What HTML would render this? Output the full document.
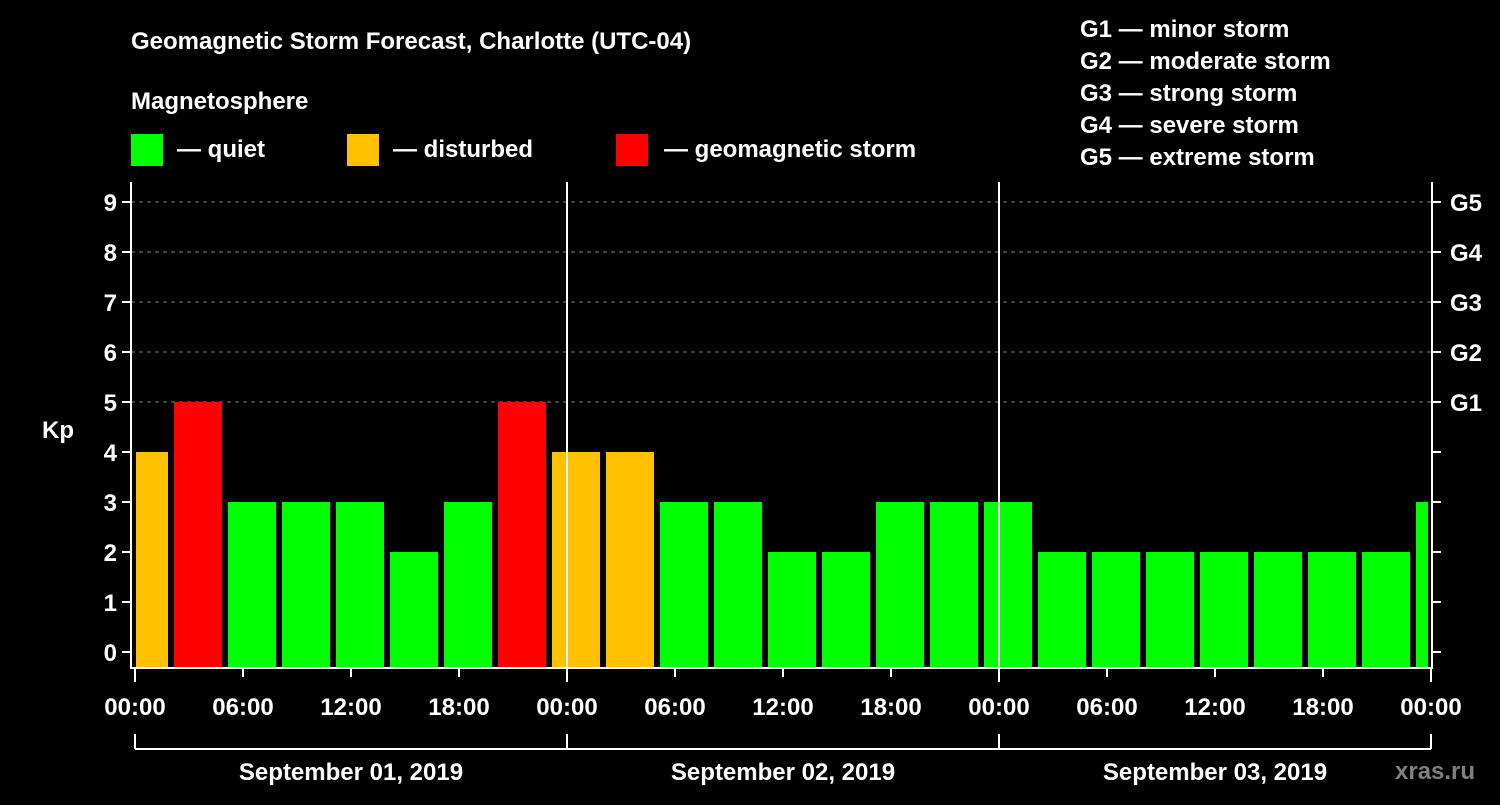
<!DOCTYPE html>
<html><head><meta charset="utf-8"><style>
body{margin:0;background:#000;width:1500px;height:800px;overflow:hidden}
svg text{font-family:"Liberation Sans",sans-serif;font-weight:bold;fill:#fff}
</style></head><body>
<svg width="1500" height="800">
<text x="131" y="49" font-size="24">Geomagnetic Storm Forecast, Charlotte (UTC-04)</text>
<text x="131" y="109" font-size="24">Magnetosphere</text>
<rect x="131" y="134" width="32" height="32" fill="#00ff00"/>
<text x="177" y="157" font-size="24">— quiet</text>
<rect x="347" y="134" width="32" height="32" fill="#ffc000"/>
<text x="393" y="157" font-size="24">— disturbed</text>
<rect x="616" y="134" width="32" height="32" fill="#ff0000"/>
<text x="664" y="157" font-size="24">— geomagnetic storm</text>
<g font-size="24">
<text x="1080" y="37">G1 — minor storm</text>
<text x="1080" y="69">G2 — moderate storm</text>
<text x="1080" y="101">G3 — strong storm</text>
<text x="1080" y="133">G4 — severe storm</text>
<text x="1080" y="165">G5 — extreme storm</text>
</g>
<g id="plot"></g>
<text x="42" y="438" font-size="24">Kp</text>
<text x="1395" y="779" font-size="24" style="fill:#808080">xras.ru</text>
</svg>
<script>
const kpValues=[4,5,3,3,3,2,3,5,4,4,3,3,2,2,3,3,3,2,2,2,2,2,2,2,3];
const yTicks=[0,1,2,3,4,5,6,7,8,9];
const gLabels=["G1","G2","G3","G4","G5"];
const gLevels=[5,6,7,8,9];
const xTickLabels=["00:00","06:00","12:00","18:00","00:00","06:00","12:00","18:00","00:00","06:00","12:00","18:00","00:00"];
const dayLabels=["September 01, 2019","September 02, 2019","September 03, 2019"];
const NS="http://www.w3.org/2000/svg";
const g=document.getElementById('plot');
const X0=135,PXH=18,L=131,R=1432,T=182,B=668;
const xs=h=>X0+h*PXH, ys=v=>652-v*50;
function mk(t,a,txt){const e=document.createElementNS(NS,t);for(const k in a)e.setAttribute(k,a[k]);if(txt!==undefined)e.textContent=txt;g.appendChild(e);return e;}
gLevels.forEach((lv,i)=>{
 const l=mk('line',{x1:L,x2:R,y1:ys(lv),y2:ys(lv),stroke:'#808080','stroke-dasharray':'4,4'});
 
 
 const t=mk('text',{x:1450,y:ys(lv)+9,'font-size':24},gLabels[i]);
 
 
});
kpValues.forEach((v,k)=>{
 const c=xs(0.5+3*k);let x1=Math.max(c-24,L+5),x2=Math.min(c+24,R-4);
 const col=v>=5?'#ff0000':v>=4?'#ffc000':'#00ff00';
 const r=mk('rect',{x:x1,y:ys(v),width:x2-x1,height:B-ys(v),fill:col});
 
 
});
yTicks.forEach(v=>{
 mk('line',{x1:L-9,x2:L,y1:ys(v),y2:ys(v),stroke:'#fff','stroke-width':2});
 mk('line',{x1:R,x2:R+9,y1:ys(v),y2:ys(v),stroke:'#fff','stroke-width':2});
 const t=mk('text',{x:117,y:ys(v)+9,'font-size':24,'text-anchor':'end'},v);
 
 
});
const fr=mk('path',{d:`M${L} ${T}V${B}H${R}V${T}`,stroke:'#fff','stroke-width':2,fill:'none'});


[1,2].forEach(d=>{const l=mk('line',{x1:xs(24*d),x2:xs(24*d),y1:T,y2:B,stroke:'#fff','stroke-width':2});
 
 });
xTickLabels.forEach((s,i)=>{
 const x=xs(6*i),day=i%4==0;
 mk('line',{x1:x,x2:x,y1:B,y2:B+(day?14:9),stroke:'#fff','stroke-width':2});
 const t=mk('text',{x:x,y:715,'font-size':24,'text-anchor':'middle'},s);
 
 
 if(day) mk('line',{x1:x,x2:x,y1:734,y2:749,stroke:'#fff','stroke-width':2});
});
mk('line',{x1:X0,x2:xs(72),y1:749,y2:749,stroke:'#fff','stroke-width':2});
dayLabels.forEach((s,i)=>{const t=mk('text',{x:xs(24*i+12),y:780,'font-size':24,'text-anchor':'middle'},s);
 
 });
</script>
</body></html>
